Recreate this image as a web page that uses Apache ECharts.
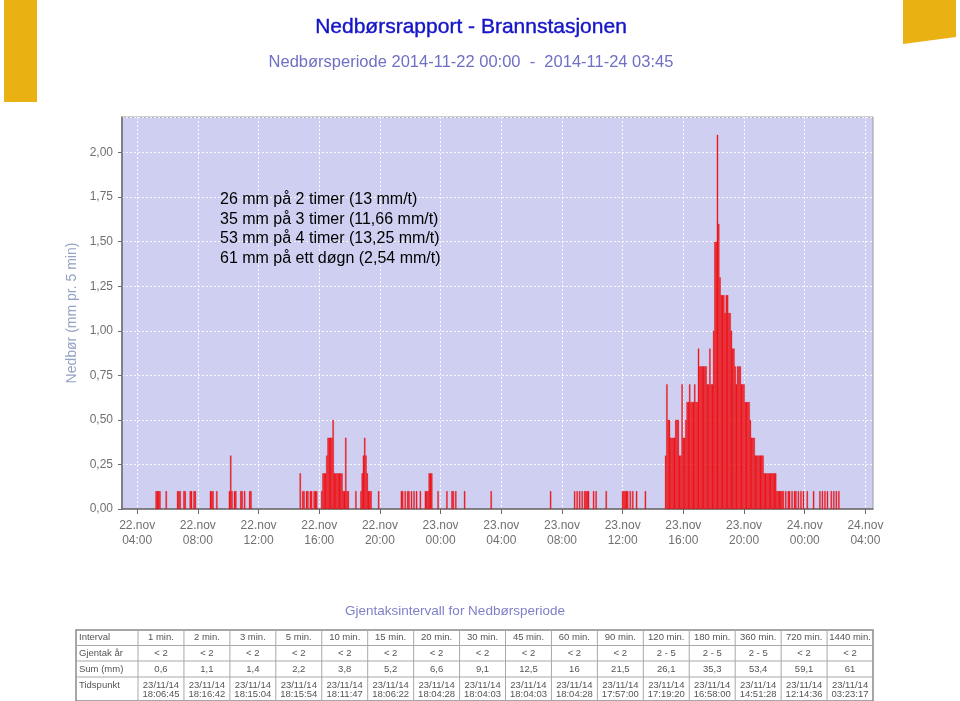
<!DOCTYPE html>
<html><head><meta charset="utf-8">
<script src="https://cdn.jsdelivr.net/npm/echarts@6/dist/echarts.min.js"></script>
<style>html,body{margin:0;padding:0;background:#fff}#c{width:960px;height:701px}</style>
</head><body><div id="c"></div>
<script>
// ---- Data (mm per 5 min) ----
const day22Times = ['05:15','05:20','05:25','05:30','05:55','06:40','06:45','06:50','07:05','07:10','07:30','07:35','07:45','07:50','08:50','08:55','09:00','09:15','10:05','10:10','10:15','10:25','10:30','10:50','10:55','11:05','11:25','11:30','14:45','14:55','15:00','15:10','15:15','15:25','15:30','15:40','15:45','15:50','16:10','16:15','16:20','16:25','16:30','16:35','16:40','16:45','16:50','16:55','17:00','17:05','17:10','17:15','17:20','17:25','17:30','17:35','17:40','17:45','17:50','17:55','18:25','18:45','18:50','18:55','19:00','19:05','19:10','19:15','19:20','19:25','19:55','21:25','21:30','21:40','21:50','21:55','22:05','22:15','22:25','22:40','23:00','23:05','23:10','23:15','23:20','23:25','23:50'];
const day22Values = [0.1,0.1,0.1,0.1, 0.1, 0.1,0.1,0.1, 0.1,0.1, 0.1,0.1,0.1,0.1, 0.1,0.1,0.1, 0.1, 0.1,0.3,0.1,0.1,0.1, 0.1,0.1,0.1, 0.1,0.1, 0.2, 0.1,0.1,0.1,0.1, 0.1,0.1,0.1,0.1,0.1, 0.1,0.2,0.2,0.2,0.3,0.4,0.4,0.4,0.4,0.5,0.2,0.2,0.2,0.2,0.2,0.2,0.2, 0.1,0.1,0.4,0.1,0.1, 0.1, 0.1,0.2,0.3,0.4,0.3,0.2,0.1,0.1,0.1, 0.1, 0.1,0.1,0.1,0.1,0.1,0.1,0.1,0.1,0.1, 0.1,0.1,0.1,0.2,0.2,0.2, 0.1];

const day23Times = ['00:25','00:45','00:50','01:00','01:35','03:20','07:15','08:50','09:00','09:10','09:20','09:30','09:35','09:40','09:45','10:05','10:15','10:55','12:00','12:05','12:10','12:15','12:20','12:30','12:40','12:55','13:30','22:35','22:45','22:55','23:00','23:10','23:20','23:25','23:35','23:45','23:55'];
const day23Values = [0.1,0.1,0.1,0.1,0.1,0.1,0.1,0.1,0.1,0.1,0.1,0.1,0.1,0.1,0.1,0.1,0.1,0.1,0.1,0.1,0.1,0.1,0.1,0.1,0.1,0.1,0.1,0.1,0.1,0.1,0.1,0.1,0.1,0.1,0.1,0.1,0.1];

// main storm on 23 Nov, consecutive 5-min values starting 14:50
const stormStart = '14:50';
const stormValues = [0.3,0.7,0.5,0.5,0.4,0.4,0.4,0.4,0.5,0.5,0.5,0.3,0.3,0.7,0.4,0.4,0.5,0.6,0.6,0.7,0.6,0.6,0.6,0.7,0.6,0.6,
  0.9,0.8,0.8,0.8,0.8,0.8,0.8,0.7,0.7,0.9,0.7,0.7,1.0,1.5,1.5,2.1,1.6,1.3,1.2,1.2,1.2,1.1,1.2,1.2,1.1,1.1,1.0,0.9,0.9,0.8,0.7,0.8,0.8,0.8,0.7,0.7,0.7,
  0.6,0.6,0.6,0.6,0.5,0.4,0.4,0.4,0.3,0.3,0.3,0.3,0.3,0.3,0.3,0.2,0.2,0.2,0.2,0.2,0.2,0.2,0.2,0.2,0.2,0.1,0.1,0.1,0.1,0.1];

const day24Times = ['00:10','00:35','01:00','01:10','01:20','01:30','01:45','01:55','02:05','02:15'];
const day24Values = [0.1,0.1,0.1,0.1,0.1,0.1,0.1,0.1,0.1,0.1];

// axis ticks (hours since 22.11 00:00)
const xTicks = [4,8,12,16,20,24,28,32,36,40,44,48,52];

// summary text
const summaryLines = ['26 mm på 2 timer (13 mm/t)','35 mm på 3 timer (11,66 mm/t)','53 mm på 4 timer (13,25 mm/t)','61 mm på ett døgn (2,54 mm/t)'];

// table
const rowLabels = ['Interval','Gjentak år','Sum (mm)','Tidspunkt'];
const intervals = ['1 min.','2 min.','3 min.','5 min.','10 min.','15 min.','20 min.','30 min.','45 min.','60 min.','90 min.','120 min.','180 min.','360 min.','720 min.','1440 min.'];
const gjentak = ['< 2','< 2','< 2','< 2','< 2','< 2','< 2','< 2','< 2','< 2','< 2','2 - 5','2 - 5','2 - 5','< 2','< 2'];
const sums = ['0,6','1,1','1,4','2,2','3,8','5,2','6,6','9,1','12,5','16','21,5','26,1','35,3','53,4','59,1','61'];
const dates = ['23/11/14','23/11/14','23/11/14','23/11/14','23/11/14','23/11/14','23/11/14','23/11/14','23/11/14','23/11/14','23/11/14','23/11/14','23/11/14','23/11/14','23/11/14','23/11/14'];
const clock = ['18:06:45','18:16:42','18:15:04','18:15:54','18:11:47','18:06:22','18:04:28','18:04:03','18:04:03','18:04:28','17:57:00','17:19:20','16:58:00','14:51:28','12:14:36','03:23:17'];

// ---- build ----
function toHours(dayOffset, hhmm){const p=hhmm.split(':');return dayOffset*24+(+p[0])+(+p[1])/60;}
const data=[];
day22Times.forEach((t,i)=>data.push([toHours(0,t),day22Values[i]]));
day23Times.forEach((t,i)=>data.push([toHours(1,t),day23Values[i]]));
const s0=toHours(1,stormStart);
stormValues.forEach((v,i)=>data.push([s0+i*5/60,v]));
day24Times.forEach((t,i)=>data.push([toHours(2,t),day24Values[i]]));

const FONT='"Liberation Sans", Arial, sans-serif';
const g=[];
// decorative yellow blocks
g.push({type:'rect',shape:{x:4,y:0,width:33,height:102},style:{fill:'#e9b112'},z:100});
g.push({type:'polygon',shape:{points:[[903,0],[956,0],[956,37],[903,44]]},style:{fill:'#e9b112'},z:100});
// titles
g.push({type:'text',z:100,style:{text:'Nedbørsrapport - Brannstasjonen',x:471,y:27,align:'center',verticalAlign:'middle',font:'21px '+FONT,fill:'#1414c8',stroke:'#1414c8',lineWidth:0.4}});
g.push({type:'text',z:100,style:{text:'Nedbørsperiode 2014-11-22 00:00  -  2014-11-24 03:45',x:471,y:62,align:'center',verticalAlign:'middle',font:'16.5px '+FONT,fill:'#6f6fc6'}});
// summary overlay
summaryLines.forEach((s,i)=>g.push({type:'text',z:100,style:{text:s,x:220,y:200+i*19.4,align:'left',verticalAlign:'middle',font:'16px '+FONT,fill:'#000'}}));
// table title
g.push({type:'text',z:100,style:{text:'Gjentaksintervall for Nedbørsperiode',x:455,y:611,align:'center',verticalAlign:'middle',font:'13.5px '+FONT,fill:'#8080c8'}});
// table
const tL=76,tR=873,c0=138,cw=(tR-c0)/16;
const rows=[630,645.5,661,677,701];
g.push({type:'rect',z:100,shape:{x:tL,y:rows[0],width:tR-tL,height:rows[4]-rows[0]},style:{fill:'#fff',stroke:'#8a8a8a',lineWidth:1.5}});
for(let r=1;r<4;r++) g.push({type:'line',z:101,shape:{x1:tL,y1:rows[r],x2:tR,y2:rows[r]},style:{stroke:'#a8a8a8',lineWidth:1}});
for(let c=0;c<16;c++){const x=c0+c*cw;g.push({type:'line',z:101,shape:{x1:x,y1:rows[0],x2:x,y2:rows[4]},style:{stroke:'#a8a8a8',lineWidth:1}});}
const tf='9.5px '+FONT, tc='#555';
rowLabels.forEach((s,r)=>{
  const y = r<3 ? (rows[r]+rows[r+1])/2 : rows[3]+8.5;
  g.push({type:'text',z:102,style:{text:s,x:tL+3,y:y,align:'left',verticalAlign:'middle',font:tf,fill:tc}});
});
for(let c=0;c<16;c++){
  const cx=c0+c*cw+cw/2;
  g.push({type:'text',z:102,style:{text:intervals[c],x:cx,y:(rows[0]+rows[1])/2,align:'center',verticalAlign:'middle',font:tf,fill:tc}});
  g.push({type:'text',z:102,style:{text:gjentak[c],x:cx,y:(rows[1]+rows[2])/2,align:'center',verticalAlign:'middle',font:tf,fill:tc}});
  g.push({type:'text',z:102,style:{text:sums[c],x:cx,y:(rows[2]+rows[3])/2,align:'center',verticalAlign:'middle',font:tf,fill:tc}});
  g.push({type:'text',z:102,style:{text:dates[c],x:cx,y:rows[3]+8.5,align:'center',verticalAlign:'middle',font:tf,fill:tc}});
  g.push({type:'text',z:102,style:{text:clock[c],x:cx,y:rows[3]+17,align:'center',verticalAlign:'middle',font:tf,fill:tc}});
}

const chart=echarts.init(document.getElementById('c'),null,{renderer:'canvas'});
chart.setOption({
  animation:false,
  backgroundColor:'#fff',
  grid:{left:122,right:87,top:117,bottom:192,show:true,backgroundColor:'#cfd0f1',borderColor:'#9c9c9c',borderWidth:1},
  xAxis:{type:'value',min:3,max:52.5,
    axisLine:{show:true,onZero:false,lineStyle:{color:'#6a6a6a',width:1.5}},
    axisTick:{show:true,customValues:xTicks,length:5,lineStyle:{color:'#6a6a6a'}},
    axisLabel:{customValues:xTicks,color:'#707070',fontSize:12,lineHeight:15,margin:9,fontFamily:FONT,
      formatter:v=>{const d=22+Math.floor(v/24);const h=v%24;return d+'.nov\n'+String(h).padStart(2,'0')+':00';}},
    splitLine:{show:true,lineStyle:{color:'#ffffff',type:[2,2],width:1,opacity:0.9}}},
  yAxis:{type:'value',min:0,max:2.2,interval:0.25,
    name:'Nedbør (mm pr. 5 min)',nameLocation:'middle',nameGap:41,
    nameTextStyle:{color:'#93a3c4',fontSize:14,fontFamily:FONT},
    axisLine:{show:true,lineStyle:{color:'#6a6a6a',width:1.5}},
    axisTick:{show:true,length:4,lineStyle:{color:'#6a6a6a'}},
    axisLabel:{color:'#707070',fontSize:12,margin:9,fontFamily:FONT,showMaxLabel:false,
      formatter:v=>v.toFixed(2).replace('.',',')},
    splitLine:{show:true,lineStyle:{color:'#ffffff',type:[2,2],width:1,opacity:0.9}}},
  series:[{type:'bar',data:data,barWidth:1.35,
    itemStyle:{color:'#ff1a1a',borderColor:'#d40010',borderWidth:0.3}}],
  graphic:{elements:g}
});
</script></body></html>
